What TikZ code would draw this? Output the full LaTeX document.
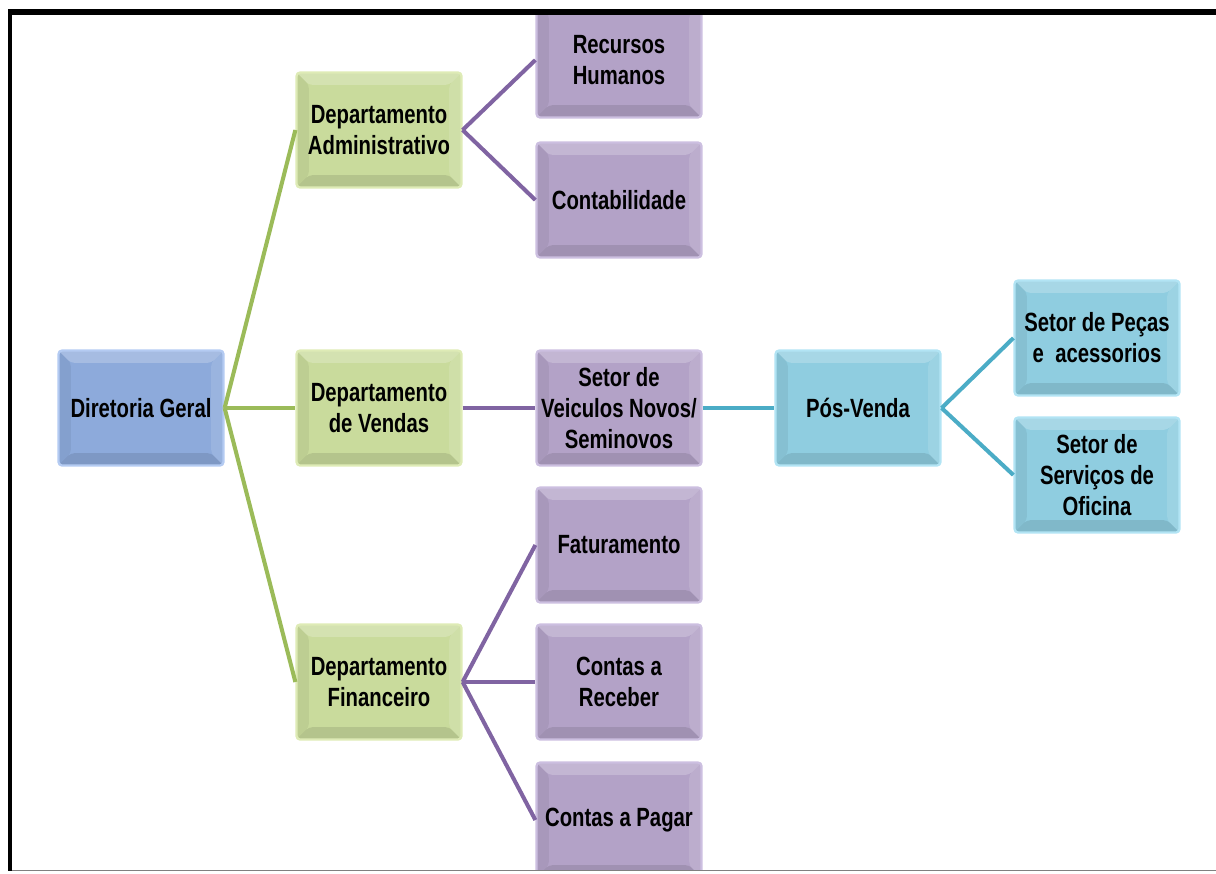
\documentclass[tikz,border=0pt]{standalone}
\usepackage{fontspec}
\setmainfont{Liberation Sans}[FakeStretch=0.77]
\usepackage{tikz}
\definecolor{bluefill}{HTML}{8DAADB}
\definecolor{blueedge}{HTML}{B4CBF2}
\definecolor{greenfill}{HTML}{C9DB9C}
\definecolor{greenedge}{HTML}{DEEBB6}
\definecolor{purplefill}{HTML}{B3A2C7}
\definecolor{purpleedge}{HTML}{CCBFE0}
\definecolor{cyanfill}{HTML}{8FCDE0}
\definecolor{cyanedge}{HTML}{B2E4F4}
\definecolor{greenline}{HTML}{9BBB59}
\definecolor{purpleline}{HTML}{8064A2}
\definecolor{cyanline}{HTML}{4BACC6}
\newcommand\bevelfacets{%
  \fill[white,opacity=.22] (path picture bounding box.north west) -- (path picture bounding box.north east)
    -- ([shift={(-7pt,-7pt)}]path picture bounding box.north east) -- ([shift={(7pt,-7pt)}]path picture bounding box.north west) -- cycle;
  \fill[white,opacity=.12] (path picture bounding box.north east) -- (path picture bounding box.south east)
    -- ([shift={(-7pt,7pt)}]path picture bounding box.south east) -- ([shift={(-7pt,-7pt)}]path picture bounding box.north east) -- cycle;
  \fill[black,opacity=.06] (path picture bounding box.north west) -- (path picture bounding box.south west)
    -- ([shift={(7pt,7pt)}]path picture bounding box.south west) -- ([shift={(7pt,-7pt)}]path picture bounding box.north west) -- cycle;
  \fill[black,opacity=.10] (path picture bounding box.south west) -- (path picture bounding box.south east)
    -- ([shift={(-7pt,7pt)}]path picture bounding box.south east) -- ([shift={(7pt,7pt)}]path picture bounding box.south west) -- cycle;
}
\tikzset{
  box/.style={minimum width=3.3cm, minimum height=2.3cm, inner sep=2pt, align=center,
    font=\bfseries\fontsize{15}{17.6}\selectfont, rounded corners=2pt, line width=1.3pt,
    path picture={\bevelfacets}},
  bluebox/.style={box, fill=bluefill, draw=blueedge},
  greenbox/.style={box, fill=greenfill, draw=greenedge},
  purplebox/.style={box, fill=purplefill, draw=purpleedge},
  cyanbox/.style={box, fill=cyanfill, draw=cyanedge},
  glink/.style={draw=greenline, line width=2.3pt},
  plink/.style={draw=purpleline, line width=2.3pt},
  clink/.style={draw=cyanline, line width=2.3pt}
}

\begin{document}
\begin{tikzpicture}[x=0.02cm,y=-0.02cm]
  \useasboundingbox (0,0) rectangle (1216,873);

  \begin{scope}
    \clip (12,15) rectangle (1216,870);

    % first and second level
    \node[bluebox] (dg) at (141,408) {Diretoria Geral};
    \node[greenbox] (admin) at (379,130) {Departamento\\Administrativo};
    \node[greenbox] (vendas) at (379,408) {Departamento\\de Vendas};
    \node[greenbox] (financ) at (379,682) {Departamento\\Financeiro};

    % sectors
    \node[purplebox] (rh) at (619,60) {Recursos\\Humanos};
    \node[purplebox] (contab) at (619,200) {Contabilidade};
    \node[purplebox] (veiculos) at (619,408) {Setor de\\Veiculos Novos/\\Seminovos};
    \node[purplebox] (fatur) at (619,545) {Faturamento};
    \node[purplebox] (receber) at (619,682) {Contas a\\Receber};
    \node[purplebox] (pagar) at (619,820) {Contas a Pagar};

    \node[cyanbox] (posvenda) at (858,408) {Pós-Venda};
    \node[cyanbox] (pecas) at (1097,338) {Setor de Peças\\e\ \ acessorios};
    \node[cyanbox] (oficina) at (1097,475) {Setor de\\Serviços de\\Oficina};

    % links
    \draw[glink] (dg.east) -- (admin.west);
    \draw[glink] (dg.east) -- (vendas.west);
    \draw[glink] (dg.east) -- (financ.west);

    \draw[plink] (admin.east) -- (rh.west);
    \draw[plink] (admin.east) -- (contab.west);
    \draw[plink] (vendas.east) -- (veiculos.west);
    \draw[plink] (financ.east) -- (fatur.west);
    \draw[plink] (financ.east) -- (receber.west);
    \draw[plink] (financ.east) -- (pagar.west);

    \draw[clink] (veiculos.east) -- (posvenda.west);
    \draw[clink] (posvenda.east) -- (pecas.west);
    \draw[clink] (posvenda.east) -- (oficina.west);
  \end{scope}

  % frame
  \fill[black] (8,9) rectangle (1216,15);
  \fill[black] (8,9) rectangle (12,871);
  \draw[gray, line width=1pt] (12,870.5) -- (1216,870.5);
\end{tikzpicture}
\end{document}
